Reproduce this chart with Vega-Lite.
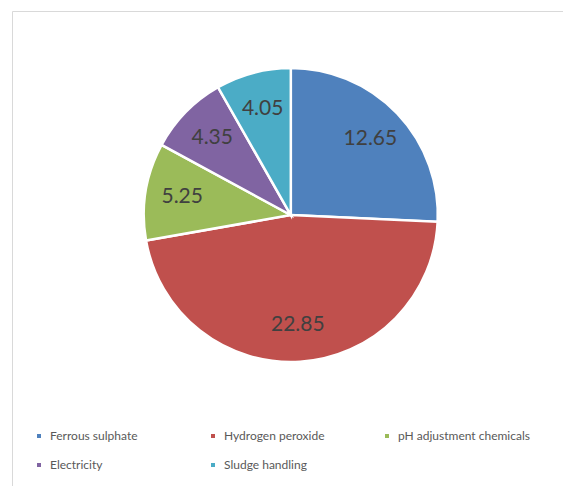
{
  "$schema": "https://vega.github.io/schema/vega-lite/v6.json",
  "width": 551,
  "height": 475,
  "autosize": "none",
  "padding": {"left": 12, "top": 11, "right": 0, "bottom": 0},
  "background": "white",
  "view": {"stroke": "#d9d9d9", "strokeWidth": 1},
  "data": {
    "values": [
      {"item": "Ferrous sulphate", "cost": 12.65, "idx": 1},
      {"item": "Hydrogen peroxide", "cost": 22.85, "idx": 2},
      {"item": "pH adjustment chemicals", "cost": 5.25, "idx": 3},
      {"item": "Electricity", "cost": 4.35, "idx": 4},
      {"item": "Sludge handling", "cost": 4.05, "idx": 5}
    ]
  },
  "encoding": {
    "theta": {"field": "cost", "type": "quantitative", "stack": true},
    "order": {"field": "idx", "type": "quantitative"},
    "x": {"datum": 0.506, "type": "quantitative", "scale": {"domain": [0, 1], "nice": false, "zero": false}, "axis": null},
    "y": {"datum": 0.5705, "type": "quantitative", "scale": {"domain": [0, 1], "nice": false, "zero": false}, "axis": null}
  },
  "layer": [
    {
      "mark": {"type": "arc", "outerRadius": 147, "stroke": "white", "strokeWidth": 2.5},
      "encoding": {
        "color": {
          "field": "item",
          "type": "nominal",
          "scale": {
            "domain": ["Ferrous sulphate", "Hydrogen peroxide", "pH adjustment chemicals", "Electricity", "Sludge handling"],
            "range": ["#4F81BD", "#C0504D", "#9BBB59", "#8064A2", "#4BACC6"]
          },
          "legend": {
            "title": null,
            "orient": "none",
            "legendX": 21,
            "legendY": 419,
            "direction": "horizontal",
            "columns": 3,
            "gridAlign": "all",
            "columnPadding": 25,
            "rowPadding": 17,
            "symbolType": "square",
            "symbolSize": 16,
            "symbolStrokeWidth": 0,
            "labelOffset": 5,
            "labelFont": "Lato",
            "labelFontSize": 12,
            "labelColor": "#595959",
            "labelLimit": 300
          }
        }
      }
    },
    {
      "mark": {"type": "text", "radius": 110, "font": "Lato", "fontSize": 21, "baseline": "middle", "align": "center"},
      "encoding": {
        "text": {"field": "cost", "type": "quantitative", "format": ".2f"},
        "color": {"value": "#404040"}
      }
    }
  ]
}
